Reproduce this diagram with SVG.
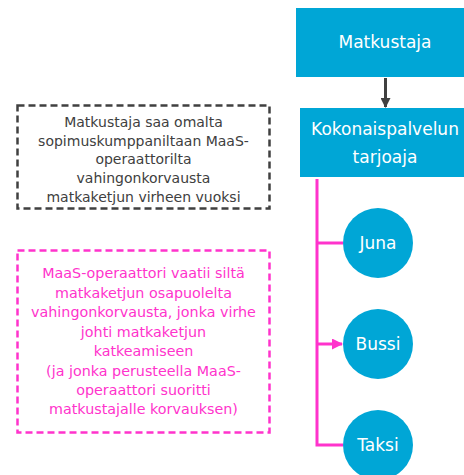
<svg xmlns="http://www.w3.org/2000/svg" width="464" height="475" viewBox="0 0 464 475">
<defs>
<style>
.box{fill:#00A6D6;}
.wt{fill:#ffffff;font-family:"DejaVu Sans",sans-serif;font-size:17px;text-anchor:middle;}
.gt{fill:#404040;font-family:"DejaVu Sans",sans-serif;font-size:14px;text-anchor:middle;}
.pt{fill:#FF33CC;font-family:"DejaVu Sans",sans-serif;font-size:14.3px;text-anchor:middle;}
.pk{stroke:#FF33CC;stroke-width:3;fill:none;}
</style>
<marker id="ah" markerWidth="10" markerHeight="10" refX="9" refY="5" orient="auto" markerUnits="userSpaceOnUse">
<path d="M0,0 L10,5 L0,10 Z" fill="#404040"/>
</marker>
<marker id="ahp" markerWidth="11" markerHeight="11" refX="10" refY="5.5" orient="auto" markerUnits="userSpaceOnUse">
<path d="M0,0 L11,5.5 L0,11 Z" fill="#FF33CC"/>
</marker>
</defs>
<rect width="464" height="475" fill="#ffffff"/>
<g id="connectors">
<line x1="385.5" y1="78" x2="385.5" y2="107" stroke="#404040" stroke-width="3" marker-end="url(#ah)"/>
<polyline class="pk" points="317,179 317,445 343,445"/>
<line class="pk" x1="317" y1="243" x2="343" y2="243"/>
<line class="pk" x1="317" y1="344" x2="342" y2="344" marker-end="url(#ahp)"/>
</g>
<g id="matkustaja">
<rect class="box" x="296" y="8" width="168" height="69"/>
<text class="wt" x="385" y="48">Matkustaja</text>
</g>
<g id="kokonaispalvelun">
<rect class="box" x="300" y="108" width="164" height="69"/>
<text class="wt" x="385" y="135">Kokonaispalvelun</text>
<text class="wt" x="385" y="163">tarjoaja</text>
</g>
<g id="juna">
<circle class="box" cx="378" cy="243" r="35"/>
<text class="wt" x="378" y="249">Juna</text>
</g>
<g id="bussi">
<circle class="box" cx="378" cy="344" r="35"/>
<text class="wt" x="378" y="350">Bussi</text>
</g>
<g id="taksi">
<circle class="box" cx="378" cy="445" r="35"/>
<text class="wt" x="378" y="451">Taksi</text>
</g>
<g id="note-black">
<rect x="17.5" y="105.5" width="252" height="103" fill="none" stroke="#404040" stroke-width="2.5" stroke-dasharray="7,4"/>
<text class="gt" x="143.5" y="127">Matkustaja saa omalta</text>
<text class="gt" x="143.5" y="145.5">sopimuskumppaniltaan MaaS-</text>
<text class="gt" x="143.5" y="164">operaattorilta</text>
<text class="gt" x="143.5" y="183">vahingonkorvausta</text>
<text class="gt" x="143.5" y="202">matkaketjun virheen vuoksi</text>
</g>
<g id="note-pink">
<rect x="17.5" y="250.5" width="252" height="182" fill="none" stroke="#FF33CC" stroke-width="2.5" stroke-dasharray="7,4"/>
<text class="pt" x="143.5" y="278">MaaS-operaattori vaatii siltä</text>
<text class="pt" x="143.5" y="298">matkaketjun osapuolelta</text>
<text class="pt" x="143.5" y="317">vahingonkorvausta, jonka virhe</text>
<text class="pt" x="143.5" y="337">johti matkaketjun</text>
<text class="pt" x="143.5" y="356">katkeamiseen</text>
<text class="pt" x="143.5" y="376">(ja jonka perusteella MaaS-</text>
<text class="pt" x="143.5" y="395">operaattori suoritti</text>
<text class="pt" x="143.5" y="414">matkustajalle korvauksen)</text>
</g>
</svg>
